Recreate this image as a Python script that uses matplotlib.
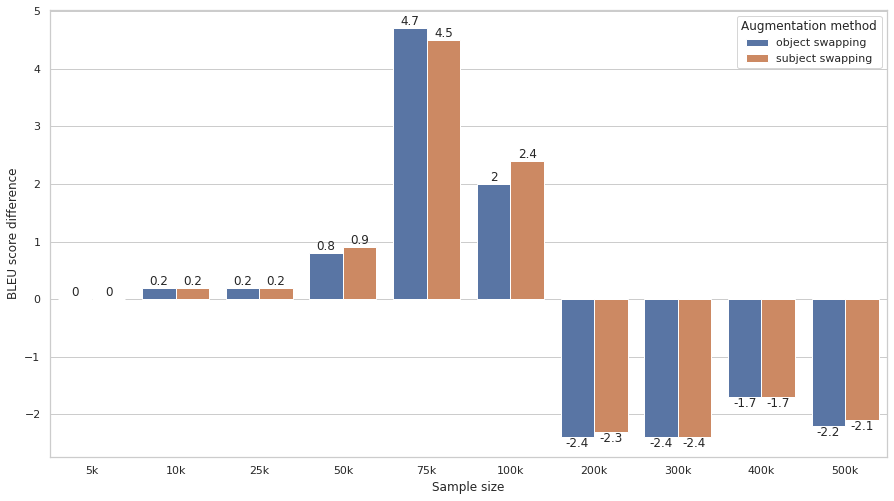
import matplotlib
matplotlib.use("Agg")
import matplotlib.pyplot as plt
import seaborn as sns
import numpy as np

sns.set_theme(style="whitegrid")
plt.rcParams['font.family'] = ['DejaVu Sans']

categories = ["5k", "10k", "25k", "50k", "75k", "100k", "200k", "300k", "400k", "500k"]
object_swapping = [0, 0.2, 0.2, 0.8, 4.7, 2, -2.4, -2.4, -1.7, -2.2]
subject_swapping = [0, 0.2, 0.2, 0.9, 4.5, 2.4, -2.3, -2.4, -1.7, -2.1]
series_names = ["object swapping", "subject swapping"]
colors = ["#5975A4", "#CC8963"]

fig, ax = plt.subplots(figsize=(894/72, 501/72), dpi=72)
x = np.arange(len(categories))
w = 0.4
for i, (vals, name) in enumerate(zip([object_swapping, subject_swapping], series_names)):
    bars = ax.bar(x - 0.2 + i * w, vals, width=w, color=colors[i], label=name,
                  edgecolor="white", linewidth=1)
    ax.bar_label(bars, fontsize=12, color="#262626")

ax.set_xticks(x)
ax.set_xticklabels(categories)
ax.set_xlim(-0.5, len(categories) - 0.5)
ax.set_ylim(-2.74, 5.02)
ax.grid(axis="x", visible=False)
ax.tick_params(axis="both", labelsize=11)
ax.set_xlabel("Sample size", fontsize=12)
ax.set_ylabel("BLEU score difference", fontsize=12)
leg = ax.legend(title="Augmentation method", loc="upper right", fontsize=11, title_fontsize=12)
fig.subplots_adjust(left=50/894, right=887/894, top=1-10/501, bottom=1-457/501)
fig.savefig("out.png", dpi=72)
